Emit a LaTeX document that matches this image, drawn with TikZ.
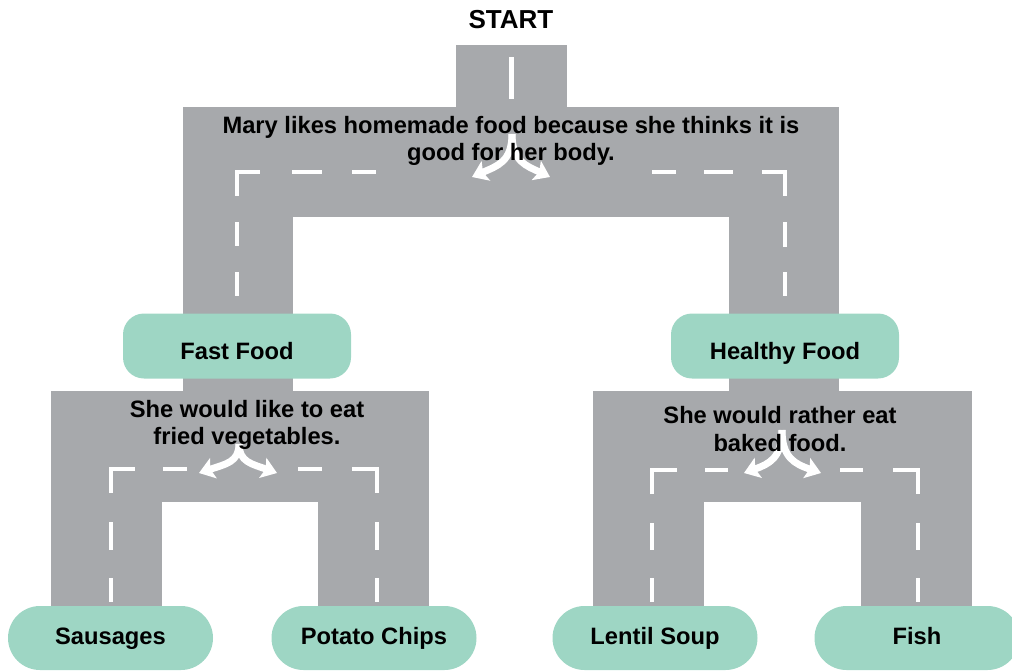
\documentclass[tikz,border=0pt]{standalone}
\usepackage{fontspec}
\setmainfont{Liberation Sans}
\usetikzlibrary{arrows.meta}
\definecolor{road}{RGB}{167,169,172}
\definecolor{leafgreen}{RGB}{158,214,196}
\tikzset{
  roadfill/.style={fill=road, draw=none},
  lane/.style={white, line width=4pt, line cap=butt, line join=miter},
  fork/.style={white, line width=7pt, -{Stealth[length=15pt,width=21pt,inset=3pt]}},
  choice/.style={fill=leafgreen, draw=none, rounded corners=21pt, minimum width=228pt, minimum height=65pt, font=\bfseries\fontsize{23.7}{27}\selectfont, inner sep=0pt, text height=26pt, text depth=0pt},
  leaf/.style={fill=leafgreen, draw=none, rounded corners=32pt, minimum width=205pt, minimum height=64pt, font=\bfseries\fontsize{23.7}{27}\selectfont, inner sep=0pt, text height=12.6pt, text depth=0pt},
  label/.style={font=\bfseries\fontsize{23.7}{27.5}\selectfont, align=center, inner sep=0pt, text=black}
}
\begin{document}
\begin{tikzpicture}[x=1pt,y=-1pt]
\useasboundingbox (0,0) rectangle (1012,670);
\clip (0,0) rectangle (1012,670);
% roads
\fill[roadfill] (456,45) rectangle (567,108);
\fill[roadfill] (183,107) rectangle (839,217);
\fill[roadfill] (183,216) rectangle (293,392);
\fill[roadfill] (729,216) rectangle (839,392);
\fill[roadfill] (51,391) rectangle (429,502);
\fill[roadfill] (593,391) rectangle (972,502);
\fill[roadfill] (51,501) rectangle (162,625);
\fill[roadfill] (318,501) rectangle (429,625);
\fill[roadfill] (593,501) rectangle (704,625);
\fill[roadfill] (861,501) rectangle (972,625);
% lane marks
\draw[lane, line width=5pt] (511.5,57) -- (511.5,99);
\draw[lane] (237,196) -- (237,172) -- (260,172);
\draw[lane] (292,172) -- (322,172);
\draw[lane] (352,172) -- (376,172);
\draw[lane] (237,222) -- (237,246);
\draw[lane] (237,272) -- (237,296);
\draw[lane] (652,172) -- (676,172);
\draw[lane] (704,172) -- (733,172);
\draw[lane] (762,172) -- (785,172) -- (785,196);
\draw[lane] (785,222) -- (785,247);
\draw[lane] (785,272) -- (785,296);
% lower left
\draw[lane] (111,493) -- (111,469) -- (135,469);
\draw[lane] (163,469) -- (187,469);
\draw[lane] (298,469) -- (322,469);
\draw[lane] (352,469) -- (377,469) -- (377,493);
\draw[lane] (111,522) -- (111,550);
\draw[lane] (111,578) -- (111,602);
\draw[lane] (377,522) -- (377,550);
\draw[lane] (377,578) -- (377,602);
% lower right
\draw[lane] (652,494) -- (652,470) -- (677,470);
\draw[lane] (705,470) -- (728,470);
\draw[lane] (840,470) -- (863,470);
\draw[lane] (893,470) -- (918,470) -- (918,494);
\draw[lane] (652,523) -- (652,550);
\draw[lane] (652,578) -- (652,602);
\draw[lane] (918,523) -- (918,550);
\draw[lane] (918,578) -- (918,602);
% forks
\coordinate (f1) at (512,134);
\coordinate (f1l) at (472,177);
\coordinate (f1r) at (550,177);
\draw[fork] (f1) .. controls (512,162) and (497,166) .. (f1l);
\draw[fork] (f1) .. controls (512,162) and (527,166) .. (f1r);
\coordinate (f2) at (239,444);
\coordinate (f2l) at (199,473);
\coordinate (f2r) at (277,473);
\draw[fork] (f2) .. controls (239,462) and (226,464) .. (f2l);
\draw[fork] (f2) .. controls (239,462) and (252,464) .. (f2r);
\coordinate (f3) at (782,430);
\coordinate (f3l) at (744,473);
\coordinate (f3r) at (821,473);
\draw[fork] (f3) .. controls (782,458) and (769,464) .. (f3l);
\draw[fork] (f3) .. controls (782,458) and (795,464) .. (f3r);
% texts
\node[label, font=\bfseries\fontsize{26}{30}\selectfont] (start) at (511,20) {START};
\node[label] (q1) at (511,141) {Mary likes homemade food because she thinks it is\\good for her body.};
\node[label] (q2) at (247,425) {She would like to eat\\fried vegetables.};
\node[label] (q3) at (780,429) {She would rather eat\\baked food.};
% choices
\node[choice] (fast) at (237,346) {Fast Food};
\node[choice] (healthy) at (785,346) {Healthy Food};
\node[leaf] (saus) at (110.5,638) {Sausages};
\node[leaf] (chips) at (374,638) {Potato Chips};
\node[leaf] (lentil) at (655,638) {Lentil Soup};
\node[leaf] (fish) at (917,638) {Fish};
\end{tikzpicture}
\end{document}
